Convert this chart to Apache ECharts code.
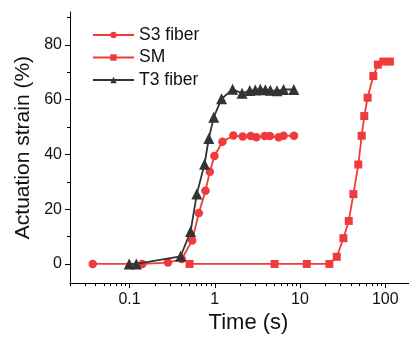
<!DOCTYPE html>
<html>
<head>
<meta charset="utf-8">
<script src="https://cdn.jsdelivr.net/npm/echarts@6/dist/echarts.min.js"></script>
<style>html,body{margin:0;padding:0;background:#fff;}#c{width:409px;height:339px;}</style>
</head>
<body>
<div id="c"></div>
<script>
// ---- data ----
var s3Time   = [0.037, 0.141, 0.282, 0.41, 0.543, 0.65, 0.778, 0.874, 0.99, 1.23, 1.65, 2.13, 2.64, 3.07, 3.86, 4.44, 5.61, 6.41, 8.5];
var s3Strain = [0, 0, 0.5, 1.8, 8.6, 18.6, 26.7, 33.7, 39.4, 44.6, 46.9, 46.5, 46.7, 46.3, 46.7, 46.7, 46.3, 46.8, 46.8];

var smTime   = [0.506, 5.03, 12.0, 22.1, 27.0, 32.3, 37.3, 42.3, 48.3, 52.9, 56.8, 62.1, 72.4, 82.0, 94.8, 113.5];
var smStrain = [0, 0, 0, 0, 2.6, 9.4, 15.7, 25.5, 36.3, 46.8, 54.0, 60.7, 68.6, 72.8, 73.9, 73.9];

var t3Time   = [0.099, 0.12, 0.397, 0.52, 0.615, 0.757, 0.851, 0.973, 1.2, 1.62, 2.09, 2.57, 2.99, 3.42, 3.92, 4.48, 5.36, 6.41, 8.46];
var t3Strain = [0, 0, 2.8, 11.8, 25.5, 36.4, 45.8, 53.6, 60.3, 63.8, 62.3, 63.3, 63.5, 63.8, 63.6, 63.4, 63.2, 63.7, 63.7];

var seriesNames = ['S3 fiber', 'SM', 'T3 fiber'];
var yMajorTicks = [0, 20, 40, 60, 80];
var yMinorTicks = [10, 30, 50, 70, 90];
var xMinorTicks = [0.02, 0.03, 0.04, 0.05, 0.06, 0.07, 0.08, 0.09,
                   0.2, 0.3, 0.4, 0.5, 0.6, 0.7, 0.8, 0.9,
                   2, 3, 4, 5, 6, 7, 8, 9,
                   20, 30, 40, 50, 60, 70, 80, 90];
var xMin = 0.02, xMax = 190;

function zip(a, b) { return a.map(function (v, i) { return [v, b[i]]; }); }

var RED = '#ef3b3b';
var GRAY = '#333333';
var FONT = 'Arial, "Liberation Sans", sans-serif';

var chart = echarts.init(document.getElementById('c'), null, { renderer: 'canvas' });
chart.setOption({
  animation: false,
  backgroundColor: '#fff',
  textStyle: { fontFamily: FONT },
  grid: { left: 70, right: 0, top: 12, bottom: 54, containLabel: false },
  legend: {
    orient: 'vertical',
    left: 87,
    top: 21,
    itemWidth: 41,
    itemHeight: 8,
    itemGap: 4.5,
    data: seriesNames,
    textStyle: { fontSize: 17.5, color: '#111', fontFamily: FONT }
  },
  xAxis: [{
    type: 'log',
    logBase: 10,
    min: xMin,
    max: xMax,
    name: 'Time (s)',
    nameLocation: 'middle',
    nameGap: 28,
    nameTextStyle: { fontSize: 22, color: '#111', fontFamily: FONT, padding: [0, 0, 0, 18] },
    axisLine: { show: true, onZero: false, lineStyle: { color: '#000', width: 1 } },
    axisTick: { show: true, inside: false, length: 5, lineStyle: { color: '#000' } },
    axisLabel: { fontSize: 16, color: '#111', margin: 8, showMinLabel: false, showMaxLabel: false, fontFamily: FONT },
    splitLine: { show: false },
    minorTick: { show: false }
  }, {
    // minor ticks (2..9 of each decade) on a log10-space helper axis
    type: 'value',
    min: Math.log10(xMin),
    max: Math.log10(xMax),
    position: 'bottom',
    axisLine: { show: false, onZero: false },
    axisTick: { show: true, inside: false, length: 3, customValues: xMinorTicks.map(function (v) { return Math.log10(v); }), lineStyle: { color: '#000' } },
    axisLabel: { show: false },
    splitLine: { show: false }
  }],
  yAxis: [{
    type: 'value',
    min: -7,
    max: 92,
    name: 'Actuation strain (%)',
    nameLocation: 'middle',
    nameGap: 36,
    nameTextStyle: { fontSize: 21, color: '#111', fontFamily: FONT },
    axisLine: { show: true, onZero: false, lineStyle: { color: '#000', width: 1 } },
    axisTick: { show: true, inside: false, length: 5, customValues: yMajorTicks, lineStyle: { color: '#000' } },
    axisLabel: { fontSize: 16, color: '#111', margin: 8, customValues: yMajorTicks, fontFamily: FONT },
    splitLine: { show: false }
  }, {
    type: 'value',
    min: -7,
    max: 92,
    position: 'left',
    axisLine: { show: false, onZero: false },
    axisTick: { show: true, inside: false, length: 3, customValues: yMinorTicks, lineStyle: { color: '#000' } },
    axisLabel: { show: false },
    splitLine: { show: false }
  }],
  series: [{
    name: seriesNames[0],
    type: 'line',
    data: zip(s3Time, s3Strain),
    symbol: 'circle',
    symbolSize: 8.5,
    color: RED,
    itemStyle: { color: RED },
    lineStyle: { color: RED, width: 1.8 },
    z: 3
  }, {
    name: seriesNames[1],
    type: 'line',
    data: zip(smTime, smStrain),
    symbol: 'rect',
    symbolSize: 8,
    color: RED,
    itemStyle: { color: RED },
    lineStyle: { color: RED, width: 1.8 },
    z: 3
  }, {
    name: seriesNames[2],
    type: 'line',
    data: zip(t3Time, t3Strain),
    symbol: 'triangle',
    symbolSize: 11,
    color: GRAY,
    itemStyle: { color: GRAY },
    lineStyle: { color: GRAY, width: 1.8 },
    z: 4
  }]
});
</script>
</body>
</html>
